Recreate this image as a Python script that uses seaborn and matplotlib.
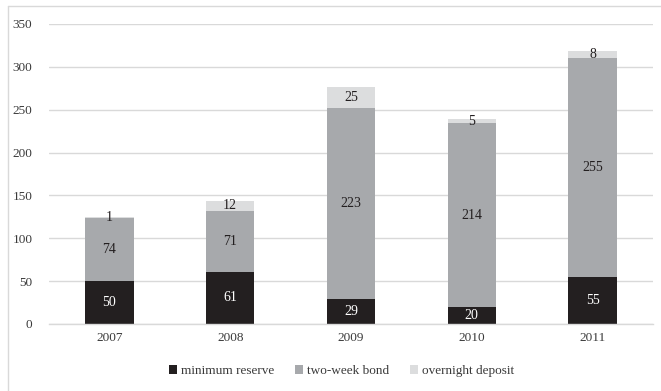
import numpy as np
import pandas as pd
import matplotlib
matplotlib.use("Agg")
import matplotlib.pyplot as plt
from matplotlib.patches import Patch
from matplotlib.lines import Line2D
import seaborn as sns

years = ["2007", "2008", "2009", "2010", "2011"]
minimum_reserve = [50, 61, 29, 20, 55]
two_week_bond = [74, 71, 223, 214, 255]
overnight_deposit = [1, 12, 25, 5, 8]
series_names = ["minimum reserve", "two-week bond", "overnight deposit"]
y_ticks = [0, 50, 100, 150, 200, 250, 300, 350]

colors = ["#231f20", "#a7a9ac", "#dcddde"]
label_colors = ["white", "#231f20", "#231f20"]

sns.set_theme(style="white")
plt.rcParams["font.family"] = ["Liberation Serif", "DejaVu Serif"]

layers = [minimum_reserve, two_week_bond, overnight_deposit]
cum = np.cumsum(np.array(layers, dtype=float), axis=0)

fig = plt.figure(figsize=(6.61, 3.91), dpi=100)
ax = fig.add_axes([49 / 661, 1 - 324 / 391, 604 / 661, 300 / 391])

# stacked bars: draw the cumulative totals from the top layer down
for i in reversed(range(len(layers))):
    df = pd.DataFrame({"year": years, "value": cum[i]})
    sns.barplot(data=df, x="year", y="value", color=colors[i], width=0.4,
                saturation=1, ax=ax, zorder=2, linewidth=0)

# value labels centred in each segment
for i, vals in enumerate(layers):
    bottoms = cum[i] - np.array(vals)
    for x, (v, b) in enumerate(zip(vals, bottoms)):
        ax.text(x, b + v / 2, str(v), ha="center", va="center",
                fontsize=10, color=label_colors[i], zorder=4)

ax.set_ylim(0, 350)
ax.set_xlim(-0.5, len(years) - 0.5)
ax.set_yticks(y_ticks)
ax.yaxis.grid(True, color="#d9d9d9", linewidth=1, zorder=0)
ax.set_axisbelow(True)
for s in ["top", "right", "left"]:
    ax.spines[s].set_visible(False)
ax.spines["bottom"].set_color("#d9d9d9")
ax.spines["bottom"].set_linewidth(1)
ax.spines["bottom"].set_zorder(3)
ax.tick_params(axis="both", length=0, labelsize=9.5, labelcolor="#3a3a3a")
ax.tick_params(axis="y", pad=12)
ax.tick_params(axis="x", pad=6)
ax.set_xlabel("")
ax.set_ylabel("")

handles = [Patch(facecolor=c, edgecolor="none") for c in colors]
fig.legend(handles, series_names, loc="center", bbox_to_anchor=(0.517, 0.051),
           ncol=3, frameon=False, fontsize=9.5, handlelength=0.6,
           handleheight=0.6, handletextpad=0.3, columnspacing=1.6,
           labelcolor="#3a3a3a")

# thin chart-area frame on the left and top
fig.add_artist(Line2D([8 / 661, 8 / 661], [0, 1 - 6 / 391],
                      transform=fig.transFigure, color="#d9d9d9", linewidth=1))
fig.add_artist(Line2D([8 / 661, 1], [1 - 6 / 391, 1 - 6 / 391],
                      transform=fig.transFigure, color="#d9d9d9", linewidth=1))

fig.savefig("out.png", dpi=100)
